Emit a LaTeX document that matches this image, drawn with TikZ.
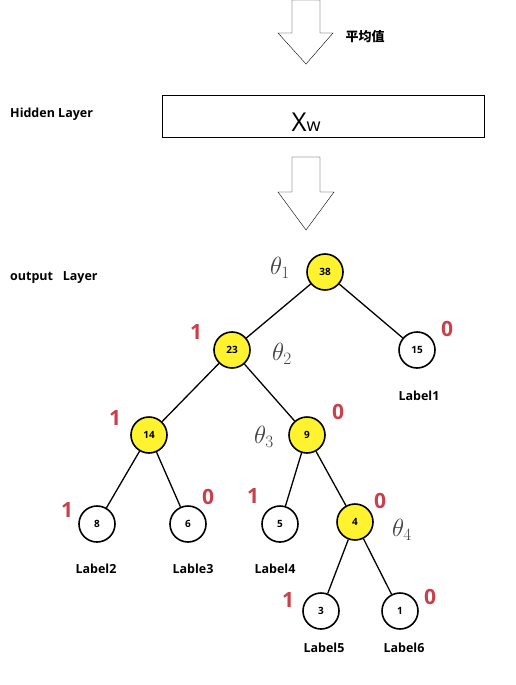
\documentclass[tikz,border=0pt]{standalone}
\usepackage{fontspec}
\setsansfont{Open Sans}
\newfontfamily\cjkfont{Noto Sans CJK SC}
\usepackage{xcolor}
\usetikzlibrary{positioning}
\definecolor{nodeyellow}{HTML}{FFF22E}
\definecolor{bitred}{HTML}{C8404C}
\tikzstyle{blockarrow} = [draw=black, thin, fill=white, line join=miter]
\tikzstyle{layername} = [font=\sffamily\bfseries\fontsize{12.5}{14}\selectfont, anchor=west, inner sep=0pt]

\begin{document}
\begin{tikzpicture}[
        x=1pt, y=-1pt,
        tnode/.style={circle, draw=black, line width=1.6pt, minimum size=36pt, inner sep=0pt, fill=white, font=\sffamily\bfseries\fontsize{10}{11}\selectfont},
        hit/.style={tnode, fill=nodeyellow},
        edge/.style={line width=1.3pt, black},
        bit/.style={font=\sffamily\bfseries\fontsize{21}{23}\selectfont, color=bitred},
        theta/.style={font=\fontsize{25}{28}\selectfont, color=black!75},
        leaf/.style={font=\sffamily\bfseries\fontsize{12.5}{14}\selectfont},
    ]
        \useasboundingbox (0,0) rectangle (515,685);

        % arrows between the layers
        \draw[blockarrow] (292,0) -- (320,0) -- (320,33) -- (333,33) -- (306,64) -- (278,33) -- (292,33) -- cycle;
        \node[font=\cjkfont\bfseries\fontsize{13}{15}\selectfont] (avg) at (365,37) {平均值};
        \draw[blockarrow] (292,157) -- (320,157) -- (320,192) -- (334,192) -- (306,230) -- (278,192) -- (292,192) -- cycle;

        % hidden layer
        \node[layername] (hidden) at (10,114) {Hidden Layer};
        \draw[thin] (162,95) rectangle (484,137);
        \node[font=\sffamily] (xw) at (306,122) {{\fontsize{26}{28}\selectfont X}{\fontsize{18}{20}\selectfont w}};

        % output layer
        \node[layername] (output) at (10,278) {output\ \ \ Layer};

        % tree
        \node[hit]  (n38) at (325,272) {38};
        \node[hit]  (n23) at (232,350) {23};
        \node[tnode] (n15) at (417,350) {15};
        \node[hit]  (n14) at (149,435) {14};
        \node[hit]  (n9)  at (307,435) {9};
        \node[tnode] (n8) at (97,524) {8};
        \node[tnode] (n6) at (188,524) {6};
        \node[tnode] (n5) at (280,524) {5};
        \node[hit]  (n4)  at (355,522) {4};
        \node[tnode] (n3) at (321,611) {3};
        \node[tnode] (n1) at (400,611) {1};

        \draw[edge] (n38) -- (n23);
        \draw[edge] (n38) -- (n15);
        \draw[edge] (n23) -- (n14);
        \draw[edge] (n23) -- (n9);
        \draw[edge] (n14) -- (n8);
        \draw[edge] (n14) -- (n6);
        \draw[edge] (n9) -- (n5);
        \draw[edge] (n9) -- (n4);
        \draw[edge] (n4) -- (n3);
        \draw[edge] (n4) -- (n1);

        % thetas
        \node[theta] (t1) at (280,268) {$\theta_1$};
        \node[theta] (t2) at (282,354) {$\theta_2$};
        \node[theta] (t3) at (264,437) {$\theta_3$};
        \node[theta] (t4) at (402,530) {$\theta_4$};

        % branch bits
        \node[bit] at (196,332) {1};
        \node[bit] at (447,329) {0};
        \node[bit] at (115,418) {1};
        \node[bit] at (338,412) {0};
        \node[bit] at (67,510) {1};
        \node[bit] at (208,497) {0};
        \node[bit] at (253,496) {1};
        \node[bit] at (380,501) {0};
        \node[bit] at (288,600) {1};
        \node[bit] at (430,597) {0};

        % leaf labels
        \node[leaf] (l1) at (419,396) {Label1};
        \node[leaf] (l2) at (96,569) {Label2};
        \node[leaf] (l3) at (193,569) {Lable3};
        \node[leaf] (l4) at (275,569) {Label4};
        \node[leaf] (l5) at (324,648) {Label5};
        \node[leaf] (l6) at (404,648) {Label6};
    \end{tikzpicture}
\end{document}
